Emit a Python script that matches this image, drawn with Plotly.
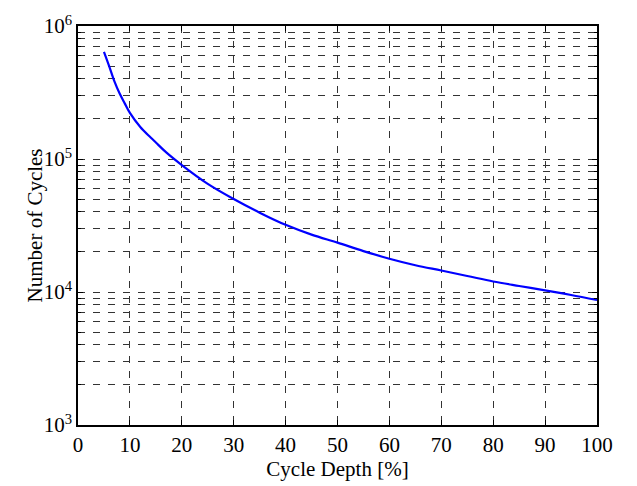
import plotly.graph_objects as go

depth = [5, 6, 7, 8, 9, 10, 12, 14, 15, 17, 20, 25, 30, 35, 40, 45, 50, 55, 60,
         65, 70, 75, 80, 85, 90, 95, 100]
cycles = [640000, 500000, 385000, 312000, 262000, 222000, 174000, 145000, 133000,
          112000, 90000, 65000, 50000, 39500, 32000, 27000, 23500, 20300, 17800,
          15900, 14500, 13200, 12000, 11100, 10300, 9500, 8700]

x_ticks = [0, 10, 20, 30, 40, 50, 60, 70, 80, 90, 100]
y_ticks = [1e3, 1e4, 1e5, 1e6]
y_ticktext = ["10<sup>3</sup>", "10<sup>4</sup>", "10<sup>5</sup>", "10<sup>6</sup>"]
y_minor = [m * 10 ** e for e in (3, 4, 5) for m in range(2, 10)]

fig = go.Figure()
fig.add_trace(go.Scatter(x=depth, y=cycles, mode="lines", line_shape="spline",
                         line=dict(color="#0000ff", width=2.2), showlegend=False))

font = dict(family="Liberation Serif, Times New Roman, serif", size=21, color="black")
dash = "7px,8px"
fig.update_layout(
    width=637, height=486,
    margin=dict(l=78, r=40, t=18, b=60),
    paper_bgcolor="white", plot_bgcolor="white",
    font=font,
    annotations=[dict(text="Number of Cycles", textangle=-90, x=-0.083, y=0.5,
                      xref="paper", yref="paper", xanchor="center", yanchor="middle",
                      showarrow=False, font=font)],
)
fig.update_xaxes(
    range=[0, 100], tickvals=x_ticks, ticks="inside", ticklen=5, tickcolor="black",
    showline=True, linecolor="black", linewidth=1.5, mirror="allticks",
    showgrid=True, gridcolor="#333333", griddash=dash, gridwidth=1,
    zeroline=False, tickfont=font,
    title=dict(text="Cycle Depth [%]", font=font, standoff=2),
)
fig.update_yaxes(
    type="log", range=[3, 6], tickvals=y_ticks, ticktext=y_ticktext,
    ticks="inside", ticklen=5, tickcolor="black",
    showline=True, linecolor="black", linewidth=1.5, mirror="allticks",
    showgrid=True, gridcolor="#333333", griddash=dash, gridwidth=1,
    minor=dict(tickvals=y_minor, showgrid=True, gridcolor="#333333",
               griddash=dash, gridwidth=1, ticks="inside", ticklen=3,
               tickcolor="black"),
    zeroline=False, tickfont=font,
)
fig.write_html("out.html")
